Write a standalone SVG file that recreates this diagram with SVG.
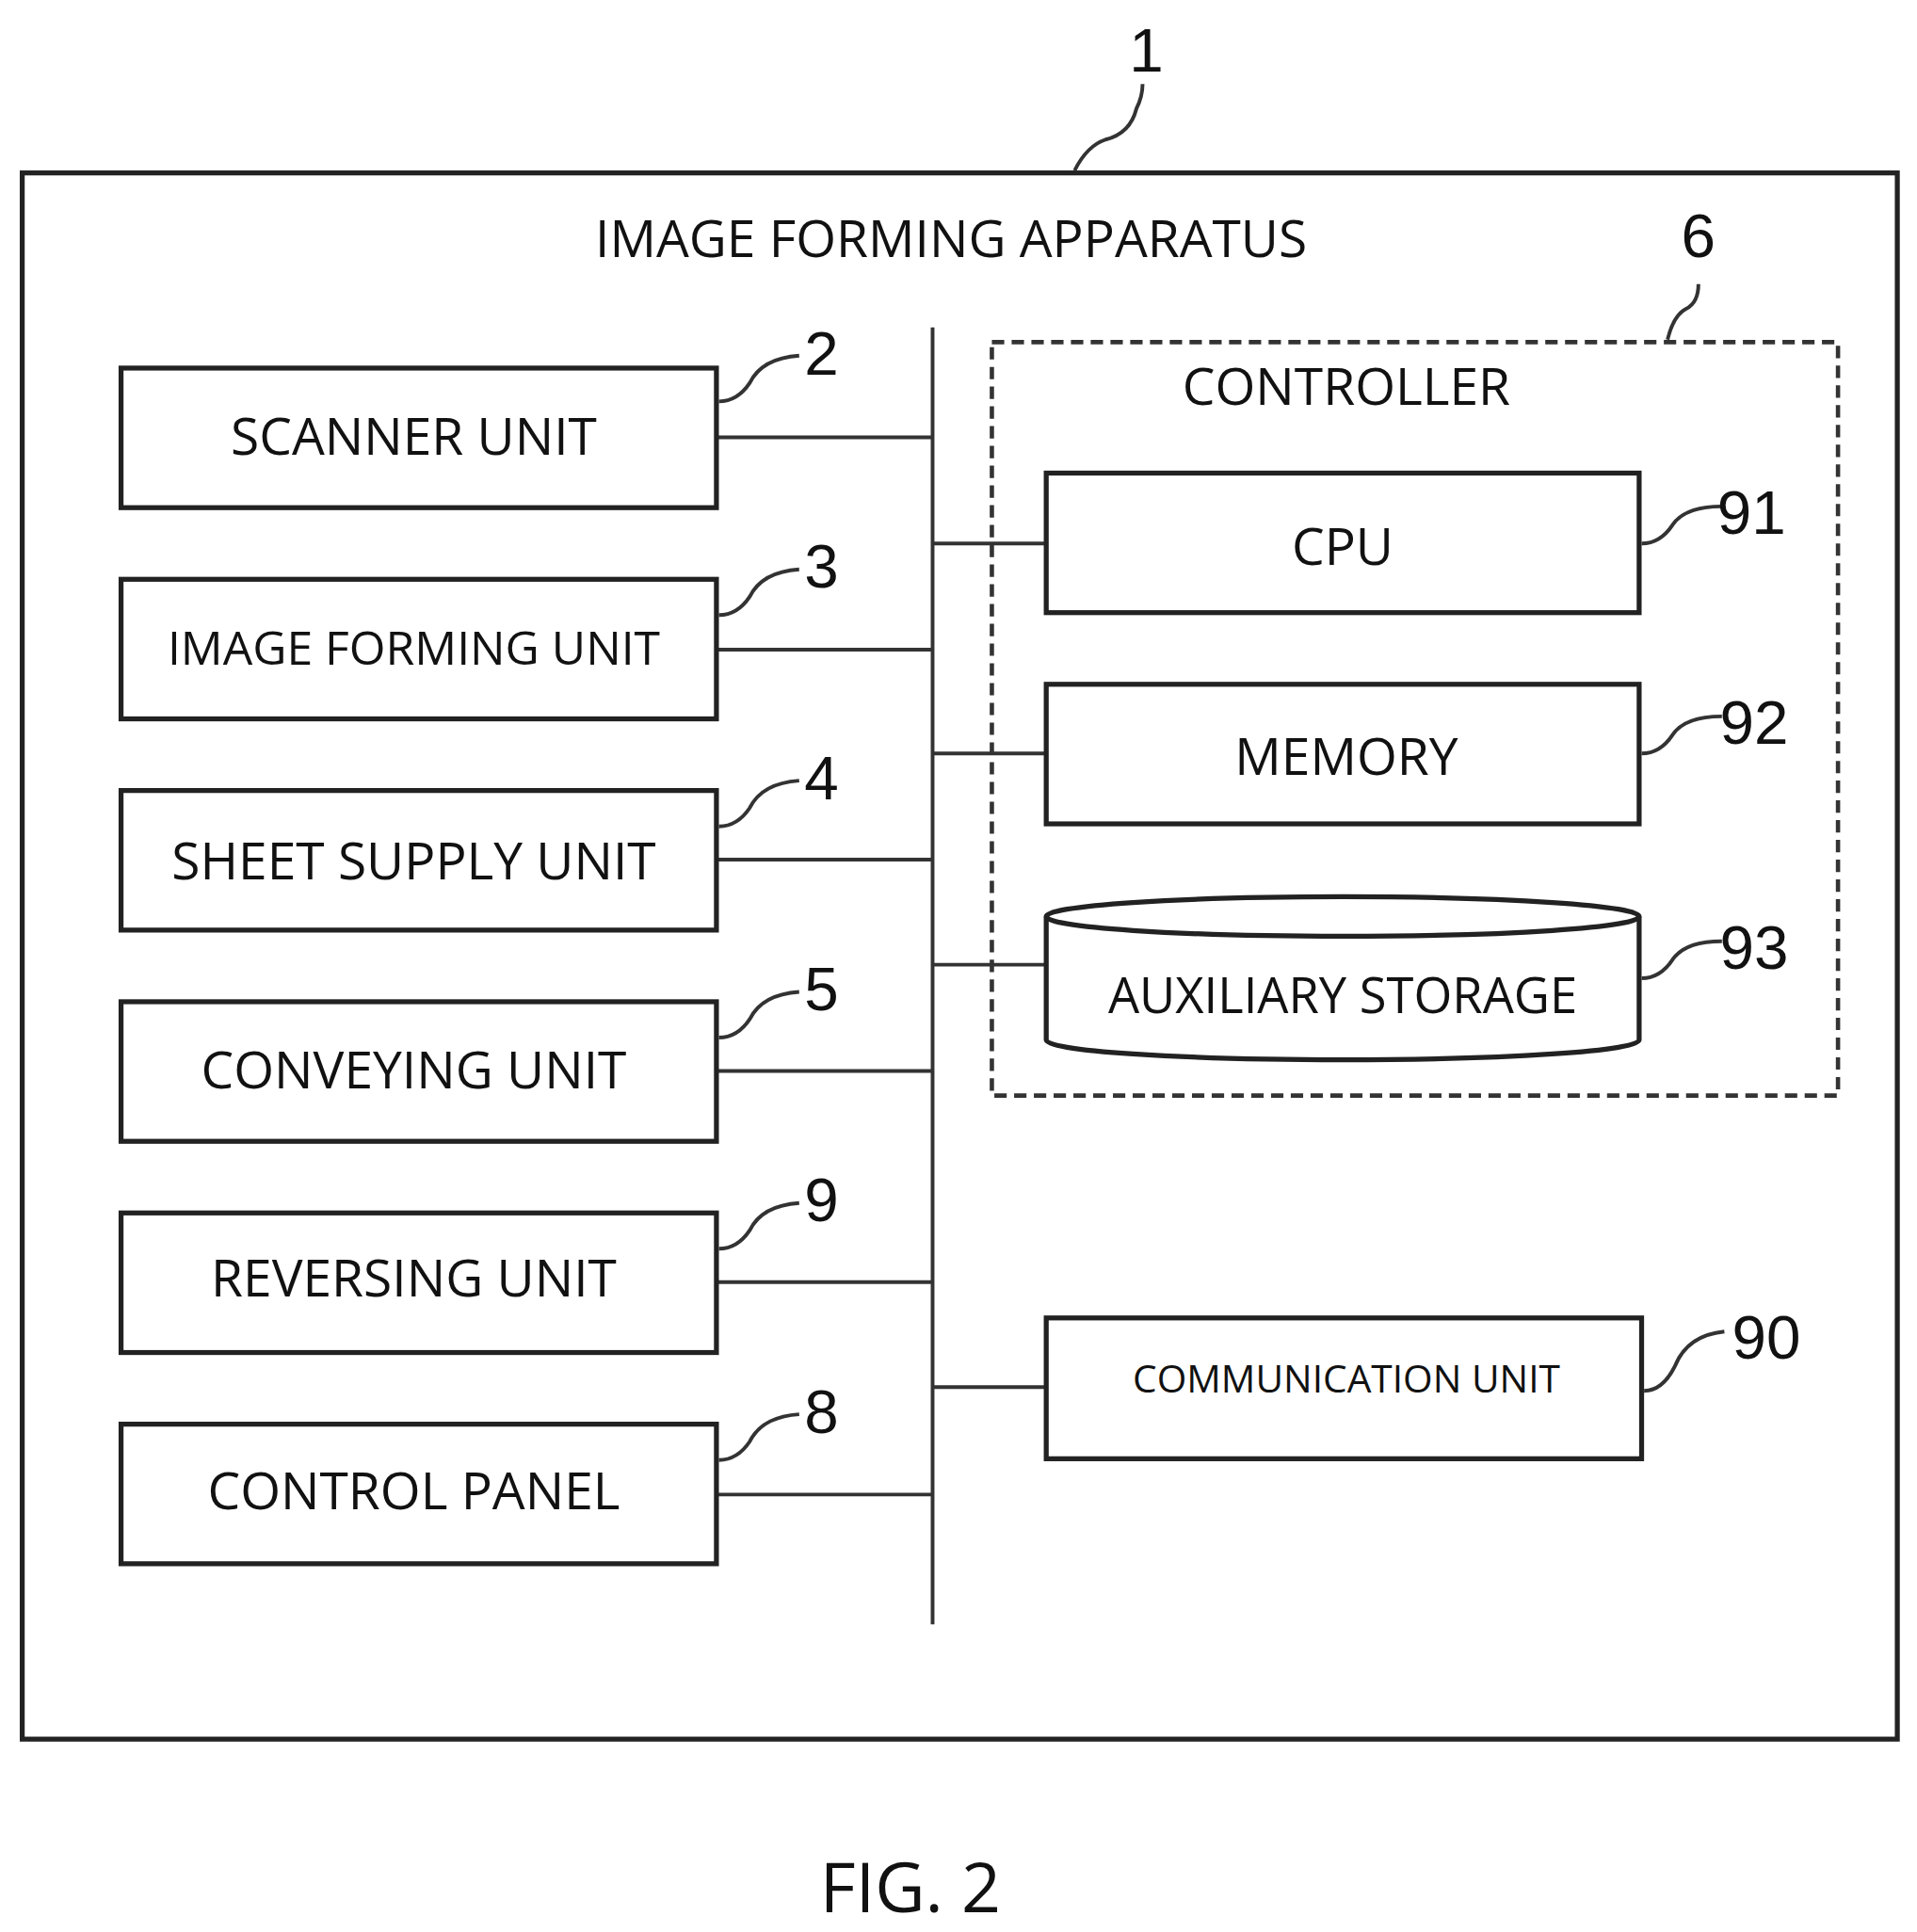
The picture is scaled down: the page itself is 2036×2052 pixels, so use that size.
<svg xmlns="http://www.w3.org/2000/svg" width="2036" height="2052" viewBox="0 0 2036 2052">
<style>
.b{fill:#fff;stroke:#222;stroke-width:4}
.l{fill:none;stroke:#333;stroke-width:3}
.t{font-family:"Open Sans","Liberation Sans",sans-serif;fill:#111;text-anchor:middle}
.n{font-family:"Liberation Sans",sans-serif;fill:#111;text-anchor:middle;font-size:50px}
</style>
<rect width="2036" height="2052" fill="#fff"/>
<g transform="scale(1.3119)">
<g id="apparatus">
<rect class="b" x="18" y="140" width="1518" height="1268"/>
<text class="t" x="770" y="208" font-size="42">IMAGE FORMING APPARATUS</text>
<path class="l" d="M870 138 q10-20 25-25 q20-5 25-25 q5-10 5-20"/>
<text class="n" x="928" y="58">1</text>
</g>
<g id="connectors">
<line class="l" x1="755" y1="265" x2="755" y2="1315"/>
<line class="l" x1="580" y1="354" x2="755" y2="354"/>
<line class="l" x1="580" y1="526" x2="755" y2="526"/>
<line class="l" x1="580" y1="696" x2="755" y2="696"/>
<line class="l" x1="580" y1="867" x2="755" y2="867"/>
<line class="l" x1="580" y1="1038" x2="755" y2="1038"/>
<line class="l" x1="580" y1="1210" x2="755" y2="1210"/>
<line class="l" x1="755" y1="440" x2="847" y2="440"/>
<line class="l" x1="755" y1="610" x2="847" y2="610"/>
<line class="l" x1="755" y1="781" x2="847" y2="781"/>
<line class="l" x1="755" y1="1123" x2="847" y2="1123"/>
</g>
<g id="scanner"><rect class="b" x="98" y="298" width="482" height="113"/><text class="t" x="335" y="368" font-size="42">SCANNER UNIT</text><path class="l" d="M582 325 q15 0 25-15 q10-20 40-22"/><text class="n" x="665" y="303">2</text></g>
<g id="imageforming"><rect class="b" x="98" y="469" width="482" height="113"/><text class="t" x="335" y="538" font-size="38">IMAGE FORMING UNIT</text><path class="l" d="M582 498 q15 0 25-15 q10-20 40-22"/><text class="n" x="665" y="476">3</text></g>
<g id="sheetsupply"><rect class="b" x="98" y="640" width="482" height="113"/><text class="t" x="335" y="712" font-size="42">SHEET SUPPLY UNIT</text><path class="l" d="M582 669 q15 0 25-15 q10-20 40-22"/><text class="n" x="665" y="647">4</text></g>
<g id="conveying"><rect class="b" x="98" y="811" width="482" height="113"/><text class="t" x="335" y="881" font-size="42">CONVEYING UNIT</text><path class="l" d="M582 840 q15 0 25-15 q10-20 40-22"/><text class="n" x="665" y="818">5</text></g>
<g id="reversing"><rect class="b" x="98" y="982" width="482" height="113"/><text class="t" x="335" y="1050" font-size="42">REVERSING UNIT</text><path class="l" d="M582 1011 q15 0 25-15 q10-20 40-22"/><text class="n" x="665" y="989">9</text></g>
<g id="controlpanel"><rect class="b" x="98" y="1153" width="482" height="113"/><text class="t" x="335" y="1222" font-size="42">CONTROL PANEL</text><path class="l" d="M582 1182 q15 0 25-15 q10-20 40-22"/><text class="n" x="665" y="1160">8</text></g>
<g id="controller">
<rect x="803" y="277" width="685" height="610" fill="none" stroke="#333" stroke-width="3.5" stroke-dasharray="10 6"/>
<text class="t" x="1090" y="328" font-size="42">CONTROLLER</text>
<path class="l" d="M1350 275 q5-20 15-25 q10-5 10-20"/><text class="n" x="1375" y="208">6</text>
</g>
<g id="cpu"><rect class="b" x="847" y="383" width="480" height="113"/><text class="t" x="1087" y="457" font-size="42">CPU</text><path class="l" d="M1329 440 q15 0 25-15 q10-15 40-15"/><text class="n" x="1418" y="432">91</text></g>
<g id="memory"><rect class="b" x="847" y="554" width="480" height="113"/><text class="t" x="1090" y="627" font-size="42">MEMORY</text><path class="l" d="M1329 610 q15 0 25-15 q10-15 40-15"/><text class="n" x="1420" y="602">92</text></g>
<g id="storage">
<path class="b" d="M847 742 v100 a240 16 0 0 0 480 0 v-100"/>
<ellipse class="b" cx="1087" cy="742" rx="240" ry="16"/>
<text class="t" x="1087" y="820" font-size="40">AUXILIARY STORAGE</text>
<path class="l" d="M1329 792 q15 0 25-15 q10-15 40-15"/><text class="n" x="1420" y="784">93</text>
</g>
<g id="communication"><rect class="b" x="847" y="1067" width="482" height="114"/><text class="t" x="1090" y="1127" font-size="31">COMMUNICATION UNIT</text><path class="l" d="M1331 1126 q15 0 25-20 q10-25 40-28"/><text class="n" x="1430" y="1100">90</text></g>
<text class="t" x="737" y="1548" font-size="56">FIG. 2</text>
</g>
</svg>
